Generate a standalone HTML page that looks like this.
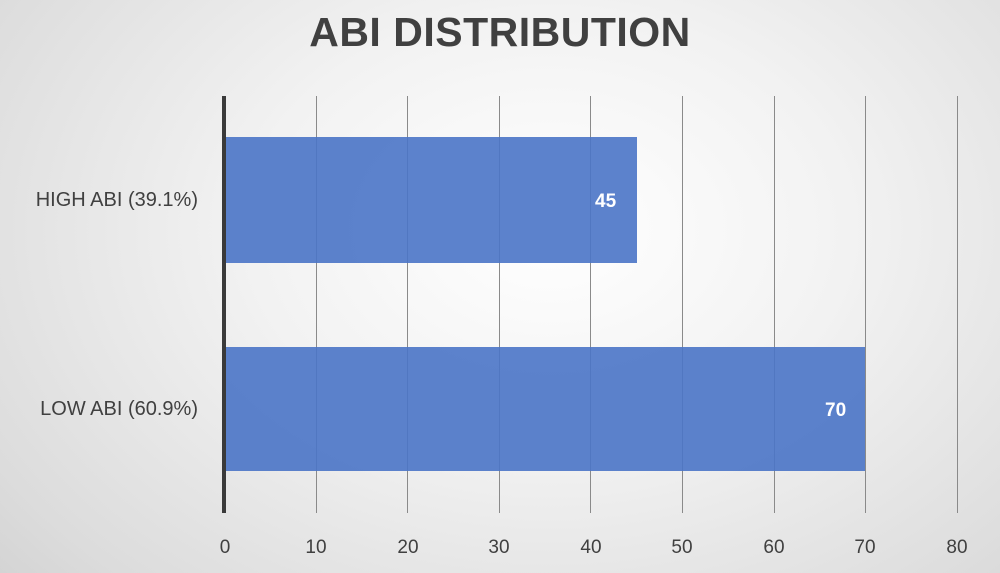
<!DOCTYPE html>
<html><head><style>
html,body{margin:0;padding:0}
body{width:1000px;height:573px;overflow:hidden;position:relative;font-family:"Liberation Sans",sans-serif;
background:radial-gradient(ellipse 75% 95% at 55% 40%,#ffffff 0%,#f2f2f2 40%,#dcdcdc 85%,#d2d2d2 100%);}
.t{position:absolute;left:0;width:1000px;text-align:center;top:9px;font-size:41px;font-weight:bold;color:#404040;letter-spacing:0.5px}
.g{position:absolute;top:96px;height:417px;width:1px;background:#8a8a8a}
.bar{position:absolute;left:225px;background:rgba(74,116,198,0.9);}
.v{position:absolute;color:#fff;font-weight:bold;font-size:19px}
.c{position:absolute;font-size:20px;color:#404040;text-align:right;width:198px;left:0}
.x{position:absolute;top:537px;font-size:19px;color:#404040;width:40px;margin-left:-20px;text-align:center}
</style></head><body>
<div class="t">ABI DISTRIBUTION</div>
<div class="g" style="left:316px"></div>
<div class="g" style="left:407px"></div>
<div class="g" style="left:499px"></div>
<div class="g" style="left:590px"></div>
<div class="g" style="left:682px"></div>
<div class="g" style="left:774px"></div>
<div class="g" style="left:865px"></div>
<div class="g" style="left:957px"></div>
<div class="bar" style="top:137px;height:126px;width:412px"></div>
<div class="bar" style="top:347px;height:124px;width:640px"></div>
<div style="position:absolute;left:222px;top:96px;width:4px;height:417px;background:#3a3a3a"></div>
<div class="v" style="left:595px;top:191px">45</div>
<div class="v" style="left:825px;top:400px">70</div>
<div class="c" style="top:189px">HIGH ABI (39.1%)</div>
<div class="c" style="top:398px">LOW ABI (60.9%)</div>
<div class="x" style="left:225px">0</div>
<div class="x" style="left:316px">10</div>
<div class="x" style="left:408px">20</div>
<div class="x" style="left:499px">30</div>
<div class="x" style="left:591px">40</div>
<div class="x" style="left:682px">50</div>
<div class="x" style="left:774px">60</div>
<div class="x" style="left:865px">70</div>
<div class="x" style="left:957px">80</div>
</body></html>
